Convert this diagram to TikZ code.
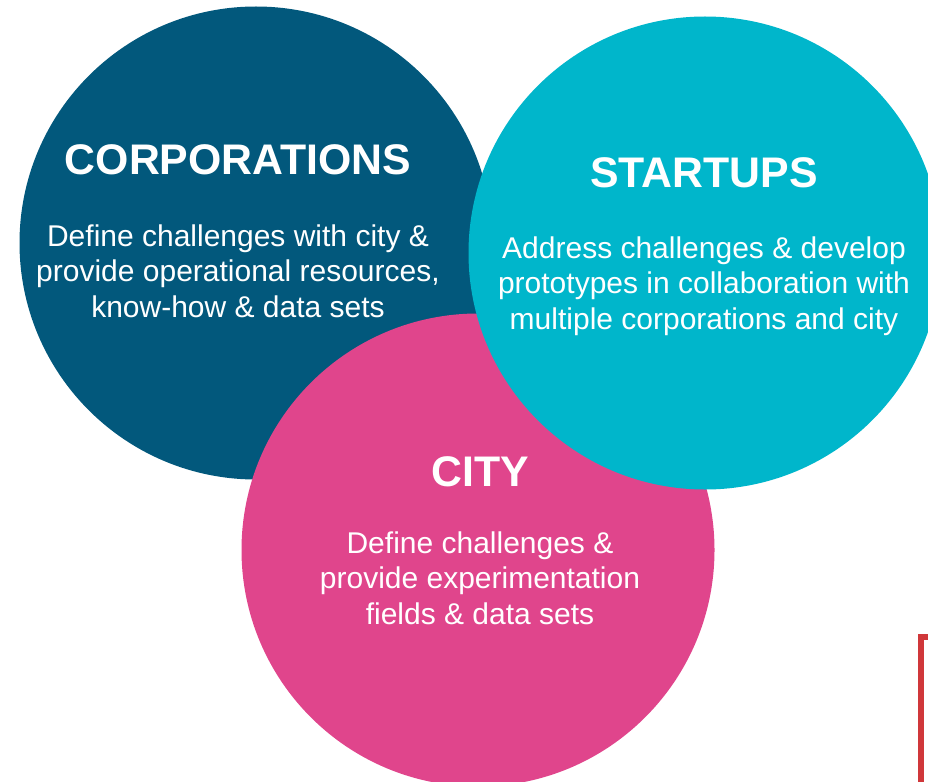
\documentclass[tikz,border=0pt]{standalone}
\usepackage{fontspec}
\setmainfont{Liberation Sans}
\usetikzlibrary{positioning}

\definecolor{corpblue}{HTML}{02587C}
\definecolor{startcyan}{HTML}{00B6CB}
\definecolor{citypink}{HTML}{E0458C}
\definecolor{framered}{HTML}{D0373A}

\begin{document}
\begin{tikzpicture}[x=1pt,y=-1pt,
	disc/.style={circle,inner sep=0pt,minimum size=473pt},
	title/.style={text=white,font=\fontsize{42.8}{48}\selectfont\bfseries},
	body/.style={text=white,align=center,font=\fontsize{30}{35.5}\selectfont}]
	\useasboundingbox (0,0) rectangle (928,781);

	% circles
	\node[disc,fill=corpblue]		(corp)	at (256,243)	{};
	\node[disc,fill=citypink]		(city)	at (478,550)	{};
	\node[disc,fill=startcyan]		(start)	at (705,253)	{};

	% texts
	\node[title]	(corpT)		at (238,160)	{CORPORATIONS};
	\node[body]		(corpB)		at (238,271)	{Define challenges with city \&\\provide operational resources,\\know-how \& data sets};
	\node[title]	(startT)	at (704,173)	{STARTUPS};
	\node[body]		(startB)	at (704,286)	{Address challenges \& develop\\prototypes in collaboration with\\multiple corporations and city};
	\node[title]	(cityT)		at (480,472)	{CITY};
	\node[body]		(cityB)		at (480,578)	{Define challenges \&\\provide experimentation\\fields \& data sets};

	% frame at the corner
	\draw[framered,line width=6pt]	(921,637) rectangle (990,820);
\end{tikzpicture}
\end{document}
